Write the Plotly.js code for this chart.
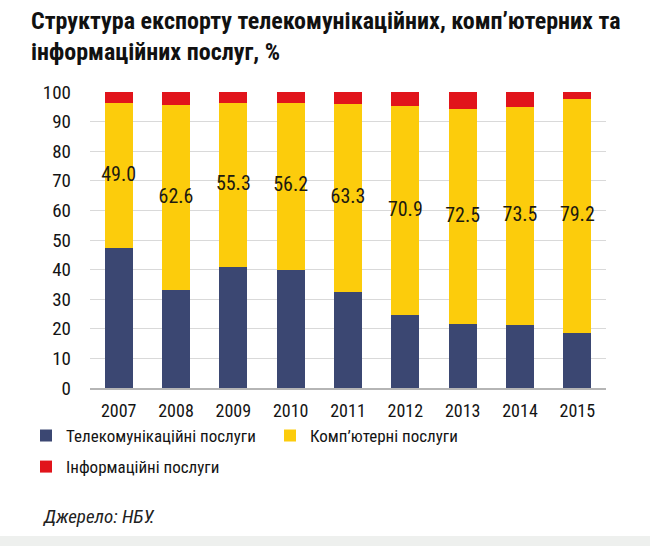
<!DOCTYPE html>
<html>
<head>
<meta charset="utf-8">
<script src="https://cdn.plot.ly/plotly-3.0.1.min.js"></script>
<style>html,body{margin:0;padding:0;background:#fff;}#chart{width:650px;height:553px;}</style>
</head>
<body>
<div id="chart"></div>
<script>
const years = ['2007','2008','2009','2010','2011','2012','2013','2014','2015'];
const telecom = [47.2, 33.0, 41.0, 40.0, 32.6, 24.5, 21.6, 21.4, 18.5];
const computer = [49.0, 62.6, 55.3, 56.2, 63.3, 70.9, 72.5, 73.5, 79.2];
const information = [3.8, 4.4, 3.7, 3.8, 4.1, 4.6, 5.9, 5.1, 2.3];
const seriesNames = ['Телекомунікаційні послуги', 'Комп’ютерні послуги', 'Інформаційні послуги'];
const titleLines = ['Структура експорту телекомунікаційних, комп’ютерних та', 'інформаційних послуг, %'];
const sourceText = 'Джерело: НБУ.';

const FONT = '"Liberation Sans Narrow", "Roboto Condensed", Arial, sans-serif';
const TXT = '#141414';

const traces = [
  {type:'bar', name:seriesNames[0], x:years, y:telecom, marker:{color:'#3B4772'}, legend:'legend'},
  {type:'bar', name:seriesNames[1], x:years, y:computer, marker:{color:'#FCCC0C'}, legend:'legend'},
  {type:'bar', name:seriesNames[2], x:years, y:information, marker:{color:'#E1141B'}, legend:'legend2'},
  {type:'scatter', mode:'text', x:years, y:computer.map((v,i)=>telecom[i]+v/2),
   text:computer.map(v=>v.toFixed(1)), textposition:'middle center',
   textfont:{family:FONT, size:20, color:'#1c1a10'}, showlegend:false}
];

const legendCommon = {orientation:'h', xanchor:'left', yanchor:'middle',
  traceorder:'normal', itemwidth:30, font:{family:FONT, size:17, color:TXT},
  bgcolor:'rgba(0,0,0,0)', borderwidth:0};

const layout = {
  width:650, height:553,
  paper_bgcolor:'#ffffff', plot_bgcolor:'#ffffff',
  barmode:'stack', bargap:0.51,
  margin:{l:90, r:44, t:92, b:165},
  font:{family:FONT, color:TXT, size:16},
  xaxis:{type:'category', showline:true, linecolor:'#b5b5b5', linewidth:1.5, ticks:'',
         ticklabelstandoff:6,
         tickfont:{family:FONT, size:18, color:TXT}, showgrid:false, fixedrange:true},
  yaxis:{range:[0,100], dtick:10, showgrid:true, gridcolor:'#d9d9d9', gridwidth:1,
         zeroline:false, showline:false, ticks:'', ticklabelstandoff:18,
         tickfont:{family:FONT, size:19, color:TXT}, fixedrange:true},
  legend:Object.assign({}, legendCommon, {x:-0.124, y:-0.162, entrywidth:199}),
  legend2:Object.assign({}, legendCommon, {x:-0.124, y:-0.267}),
  annotations:[
    {text:'<b>'+titleLines.join('<br>')+'</b>', xref:'paper', yref:'paper', x:-0.118, y:1.293,
     xanchor:'left', yanchor:'top', align:'left', showarrow:false,
     font:{family:FONT, size:24, color:'#111'}},
    {text:'<i>'+sourceText+'</i>', xref:'paper', yref:'paper', x:-0.097, y:-0.433,
     xanchor:'left', yanchor:'middle', showarrow:false,
     font:{family:FONT, size:19, color:'#222'}}
  ],
  shapes:[
    {type:'rect', xref:'paper', yref:'paper', x0:-0.2, x1:1.2, y0:-0.5, y1:-0.534,
     fillcolor:'#eef0ee', line:{width:0}, layer:'below'}
  ]
};

Plotly.newPlot('chart', traces, layout, {displayModeBar:false, staticPlot:true});
</script>
</body>
</html>
